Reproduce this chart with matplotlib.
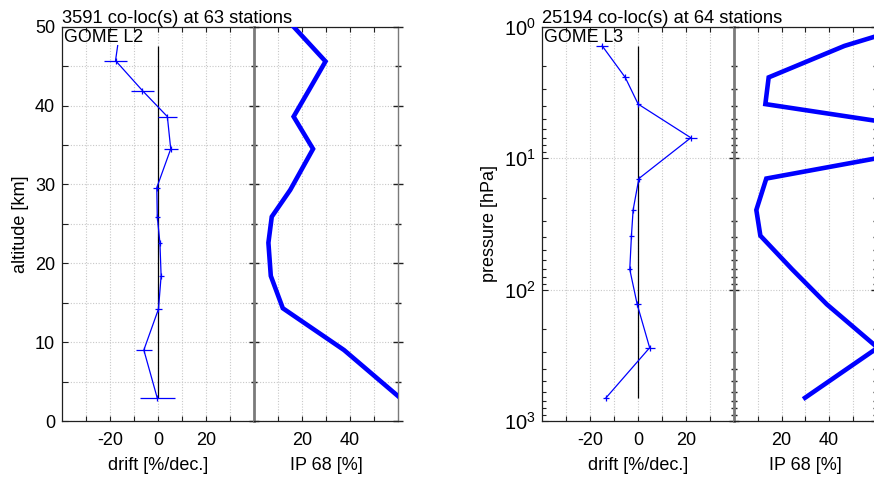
import numpy as np
import matplotlib
matplotlib.use('Agg')
import matplotlib.pyplot as plt
from matplotlib.ticker import FixedLocator, NullFormatter, LogLocator, LogFormatterSciNotation

plt.rcParams['font.family'] = ['Liberation Sans', 'DejaVu Sans']
plt.rcParams['mathtext.fontset'] = 'custom'
plt.rcParams['mathtext.rm'] = 'Liberation Sans'
plt.rcParams['mathtext.it'] = 'Liberation Sans:italic'
plt.rcParams['axes.unicode_minus'] = False

# ---------------- data ----------------
title_l2 = "3591 co-loc(s) at 63 stations"
label_l2 = "GOME L2"
alt_l2 = [47.6, 45.7, 41.9, 38.6, 34.5, 29.6, 25.9, 22.6, 18.4, 14.2, 9.0, 2.9]
drift_l2 = [-16.8, -17.7, -6.5, 3.9, 5.3, -0.5, -0.3, 0.8, 1.3, 0.2, -5.9, -0.3]
drift_err_l2 = [np.nan, 4.9, 4.7, 3.9, 3.0, 1.4, 1.0, 1.0, 1.0, 1.3, 3.2, 7.3]
ip_alt_l2 = [50.0, 45.6, 41.9, 38.6, 34.5, 29.3, 25.9, 22.6, 18.4, 14.3, 9.0, 2.9]
ip_l2 = [16.5, 29.8, 22.8, 16.5, 24.6, 15.1, 7.4, 6.0, 7.0, 12.0, 37.5, 61.0]

title_l3 = "25194 co-loc(s) at 64 stations"
label_l3 = "GOME L3"
p_l3 = [1.40, 2.43, 3.88, 7.0, 14.3, 24.8, 38.9, 70.2, 129.6, 277.0, 666.0]
drift_l3 = [-15.0, -5.4, 0.0, 22.0, 0.3, -2.1, -2.8, -3.5, -0.4, 4.8, -13.4]
drift_err_l3 = [2.6, 1.4, 1.0, 2.4, 1.0, 1.0, 1.0, 1.0, 1.4, 2.1, 1.4]
ip_p_l3 = [1.0, 1.40, 2.43, 3.88, 7.0, 14.3, 24.8, 38.9, 70.2, 129.6, 277.0, 666.0]
ip_l3 = [73.0, 46.5, 14.6, 13.2, 107.0, 13.6, 9.4, 11.1, 24.5, 39.1, 60.5, 29.9]

drift_ticks = [-20, 0, 20]
drift_minor = [-30, -10, 10, 30]
ip_ticks = [20, 40]
ip_minor = [10, 30, 50]
alt_ticks = [0, 10, 20, 30, 40, 50]
alt_minor = [5, 15, 25, 35, 45]

# ---------------- layout ----------------
W, H = 874, 480
fig = plt.figure(figsize=(W / 100, H / 100), dpi=100)

def rect(x0, x1, y0=26.7, y1=421.0):
    return [x0 / W, 1 - y1 / H, (x1 - x0) / W, (y1 - y0) / H]

BLUE = '#0000ff'
GRID = dict(color='#c8c8c8', ls=(0, (1, 1.5)), lw=0.8)
FS = 13
DARK = '#202020'
GRAY = '#7a7a7a'


def style_x(ax, major, minor, lim):
    ax.set_xlim(*lim)
    ax.xaxis.set_major_locator(FixedLocator(major))
    ax.xaxis.set_minor_locator(FixedLocator(minor))
    ax.xaxis.set_minor_formatter(NullFormatter())
    ax.tick_params(axis='x', which='both', direction='in', top=True, bottom=True,
                   length=3.5, width=0.8, color=DARK, labelsize=FS, pad=8)
    ax.grid(True, axis='x', which='both', **GRID)


def panel(x0, xdiv, x1, logp):
    axd = fig.add_axes(rect(x0, xdiv))
    axi = fig.add_axes(rect(xdiv, x1), sharey=axd)
    style_x(axd, drift_ticks, drift_minor, (-40, 40))
    style_x(axi, ip_ticks, ip_minor, (0, 60))
    for ax in (axd, axi):
        ax.set_axisbelow(True)
        ax.spines['top'].set_color(DARK)
        ax.spines['bottom'].set_color(DARK)
        ax.spines['top'].set_linewidth(0.9)
        ax.spines['bottom'].set_linewidth(0.9)
    axd.spines['left'].set_color(DARK)
    axd.spines['left'].set_linewidth(0.9)
    axd.spines['right'].set_visible(False)
    axi.spines['left'].set_color(GRAY)
    axi.spines['left'].set_linewidth(2.0)
    axi.spines['right'].set_color(GRAY)
    axi.spines['right'].set_linewidth(1.0)

    if logp:
        axd.set_yscale('log')
        axd.set_ylim(1000, 1)
        axd.yaxis.set_major_locator(LogLocator(base=10, numticks=10))
        axd.yaxis.set_minor_locator(LogLocator(base=10, subs=np.arange(2, 10), numticks=20))
        axd.yaxis.set_major_formatter(LogFormatterSciNotation())
        axd.yaxis.set_minor_formatter(NullFormatter())
        for ax in (axd, axi):
            ax.grid(True, axis='y', which='major', **GRID)
    else:
        axd.set_ylim(0, 50)
        axd.yaxis.set_major_locator(FixedLocator(alt_ticks))
        axd.yaxis.set_minor_locator(FixedLocator(alt_minor))
        axd.yaxis.set_minor_formatter(NullFormatter())
        for ax in (axd, axi):
            ax.grid(True, axis='y', which='both', **GRID)

    axd.tick_params(axis='y', which='major', direction='in', left=True, right=False,
                    length=4, width=0.8, color=DARK, labelsize=FS + (1.5 if logp else 0), pad=5)
    axd.tick_params(axis='y', which='minor', direction='in', left=True, right=False,
                    length=3 if logp else 4, width=0.8, color=DARK)
    axi.tick_params(axis='y', which='both', direction='inout', left=True, right=True,
                    labelleft=False, length=7, width=1.0, color=DARK)
    axi.tick_params(axis='y', which='minor', length=5)
    return axd, axi


def draw(axd, axi, yv, drift, err, ip_y, ip, title, label, ylabel):
    yv = np.asarray(yv, float)
    drift = np.asarray(drift, float)
    err = np.asarray(err, float)
    axd.vlines(0, yv.min(), yv.max(), color='black', lw=0.9, zorder=2)
    axd.plot(drift, yv, color=BLUE, lw=0.9, zorder=3)
    ok = np.isfinite(err)
    axd.errorbar(drift[ok], yv[ok], xerr=err[ok], fmt='none', ecolor=BLUE,
                 elinewidth=0.9, capsize=0, zorder=3)
    axd.plot(drift[ok], yv[ok], ls='none', marker='|', ms=5, mew=0.9, color=BLUE, zorder=3)
    axi.plot(ip, ip_y, color=BLUE, lw=3.3, solid_joinstyle='miter', zorder=3)
    axd.set_xlabel('drift [%/dec.]', fontsize=FS, labelpad=6)
    axi.set_xlabel('IP 68 [%]', fontsize=FS, labelpad=6)
    axd.set_ylabel(ylabel, fontsize=FS, labelpad=4)
    axd.annotate(title, xy=(0, 1), xycoords='axes fraction', xytext=(0, 3),
                 textcoords='offset points', ha='left', va='baseline', fontsize=13.2)
    axd.annotate(label, xy=(0, 1), xycoords='axes fraction', xytext=(1.5, -1.5),
                 textcoords='offset points', ha='left', va='top', fontsize=12.8)


a1, b1 = panel(62.0, 254.0, 398.0, False)
draw(a1, b1, alt_l2, drift_l2, drift_err_l2, ip_alt_l2, ip_l2, title_l2, label_l2, 'altitude [km]')

a2, b2 = panel(542.3, 734.0, 876.5, True)
b2.spines['right'].set_visible(False)
draw(a2, b2, p_l3, drift_l3, drift_err_l3, ip_p_l3, ip_l3, title_l3, label_l3, 'pressure [hPa]')

fig.savefig('out.png', dpi=100)
